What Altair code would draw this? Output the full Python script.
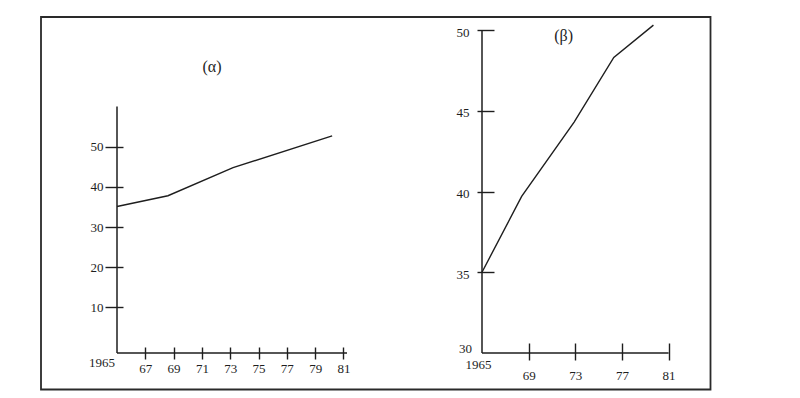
import altair as alt
import pandas as pd

# ---------------- data ----------------
# panel (α)
years_alpha = [1965, 1968.6, 1973.2, 1980.2]
values_alpha = [35.1, 37.8, 44.8, 52.7]
xticks_alpha = [1967, 1969, 1971, 1973, 1975, 1977, 1979, 1981]
yticks_alpha = [10, 20, 30, 40, 50]

# panel (β)
years_beta = [1965, 1968.4, 1972.9, 1976.3, 1979.7]
values_beta = [35.0, 39.7, 44.3, 48.3, 50.3]
xticks_beta = [1969, 1973, 1977, 1981]
yticks_beta = [35, 40, 45, 50]

titles = ["(α)", "(β)"]
origin_year = 1965
origin_label = "1965"
beta_base_label = "30"

# scale extents
xdom_alpha = [1965, 1981.25]
ydom_alpha = [-1.37, 79.07]
yaxis_top_alpha = 60
xdom_beta = [1965, 1981]
ydom_beta = [30, 50]

INK = "#1e1e1e"
FONT = "Liberation Serif"

xa = alt.Scale(domain=xdom_alpha, nice=False, zero=False)
ya = alt.Scale(domain=ydom_alpha, nice=False, zero=False)
xb = alt.Scale(domain=xdom_beta, nice=False, zero=False)
yb = alt.Scale(domain=ydom_beta, nice=False, zero=False)


def x_axis(values, offset, size, pad):
    return alt.Axis(values=values, domain=False, grid=False, ticks=True,
                    tickSize=size, tickWidth=1.4, tickColor=INK, offset=offset,
                    labelPadding=pad, labelExpr="substring(toString(datum.value), 2)",
                    labelFont=FONT, labelFontSize=13, labelColor=INK,
                    labelFlush=False, labelOverlap=False, title=None)


def y_axis(values, offset, size, pad, loff):
    return alt.Axis(values=values, domain=False, grid=False, ticks=True,
                    tickSize=size, tickWidth=1.4, tickColor=INK, offset=offset,
                    labelPadding=pad, labelOffset=loff, format="d",
                    labelFont=FONT, labelFontSize=13, labelColor=INK,
                    labelOverlap=False, title=None)


ax_xa = x_axis(xticks_alpha, -6, 12, 3)
ax_ya = y_axis(yticks_alpha, -6, 18, 2, 0)
ax_xb = x_axis(xticks_beta, -10, 17, 9.5)
ax_yb = y_axis(yticks_beta, -12, 17, 8, 2)

# ---------------- panel (α) ----------------
df_a = pd.DataFrame({"year": years_alpha, "value": values_alpha})
line_a = alt.Chart(df_a).mark_line(color=INK, strokeWidth=1.4).encode(
    x=alt.X("year:Q", scale=xa, axis=ax_xa),
    y=alt.Y("value:Q", scale=ya, axis=ax_ya),
)

axes_a = pd.DataFrame({
    "year": [origin_year, origin_year],
    "x2": [origin_year, xdom_alpha[1]],
    "value": [ydom_alpha[0], ydom_alpha[0]],
    "y2": [yaxis_top_alpha, ydom_alpha[0]],
})
rules_a = alt.Chart(axes_a).mark_rule(color=INK, strokeWidth=1.5).encode(
    x=alt.X("year:Q", scale=xa, axis=ax_xa), x2="x2:Q",
    y=alt.Y("value:Q", scale=ya, axis=ax_ya), y2="y2:Q",
)

lab_a = alt.Chart(pd.DataFrame({"year": [origin_year], "value": [ydom_alpha[0]], "t": [origin_label]})).mark_text(
    align="right", baseline="top", dx=-2, dy=4, font=FONT, fontSize=13, color=INK
).encode(x=alt.X("year:Q", scale=xa, axis=ax_xa), y=alt.Y("value:Q", scale=ya, axis=ax_ya), text="t:N")

title_a = alt.Chart(pd.DataFrame({"t": [titles[0]]})).mark_text(
    font=FONT, fontSize=16, color=INK, align="center", baseline="middle"
).encode(x=alt.value(95), y=alt.value(37), text="t:N")

frame = alt.Chart(pd.DataFrame({"k": [0]})).mark_rect(
    fillOpacity=0, stroke="#2a2a2a", strokeWidth=1.8
).encode(x=alt.value(-76), x2=alt.value(593.5), y=alt.value(-13), y2=alt.value(359.5))

left = alt.layer(line_a, rules_a, lab_a, title_a, frame).properties(width=230, height=323)

# ---------------- panel (β) ----------------
df_b = pd.DataFrame({"year": years_beta, "value": values_beta})
line_b = alt.Chart(df_b).mark_line(color=INK, strokeWidth=1.4).encode(
    x=alt.X("year:Q", scale=xb, axis=ax_xb),
    y=alt.Y("value:Q", scale=yb, axis=ax_yb),
)

axes_b = pd.DataFrame({
    "year": [origin_year, origin_year],
    "x2": [origin_year, xdom_beta[1]],
    "value": [ydom_beta[0], ydom_beta[0]],
    "y2": [ydom_beta[1], ydom_beta[0]],
})
rules_b = alt.Chart(axes_b).mark_rule(color=INK, strokeWidth=1.5).encode(
    x=alt.X("year:Q", scale=xb, axis=ax_xb), x2="x2:Q",
    y=alt.Y("value:Q", scale=yb, axis=ax_yb), y2="y2:Q",
)

lab_b = alt.Chart(pd.DataFrame({"year": [origin_year], "value": [ydom_beta[0]], "t": [origin_label]})).mark_text(
    align="center", baseline="top", dx=-3.5, dy=5.5, font=FONT, fontSize=13, color=INK
).encode(x=alt.X("year:Q", scale=xb, axis=ax_xb), y=alt.Y("value:Q", scale=yb, axis=ax_yb), text="t:N")

lab30 = alt.Chart(pd.DataFrame({"year": [origin_year], "value": [ydom_beta[0]], "t": [beta_base_label]})).mark_text(
    align="right", baseline="middle", dx=-10, dy=-4.5, font=FONT, fontSize=13, color=INK
).encode(x=alt.X("year:Q", scale=xb, axis=ax_xb), y=alt.Y("value:Q", scale=yb, axis=ax_yb), text="t:N")

title_b = alt.Chart(pd.DataFrame({"t": [titles[1]]})).mark_text(
    font=FONT, fontSize=16, color=INK, align="center", baseline="middle"
).encode(x=alt.value(81.6), y=alt.value(6), text="t:N")

right = alt.layer(line_b, rules_b, lab_b, lab30, title_b).properties(width=186.6, height=323)

chart = alt.hconcat(left, right, spacing=135, bounds="flush").properties(
    padding={"left": 32, "top": 8, "right": 5, "bottom": 5}
).configure_view(strokeWidth=0)

chart.save("out.html", embed_options={"renderer": "svg", "actions": False})
